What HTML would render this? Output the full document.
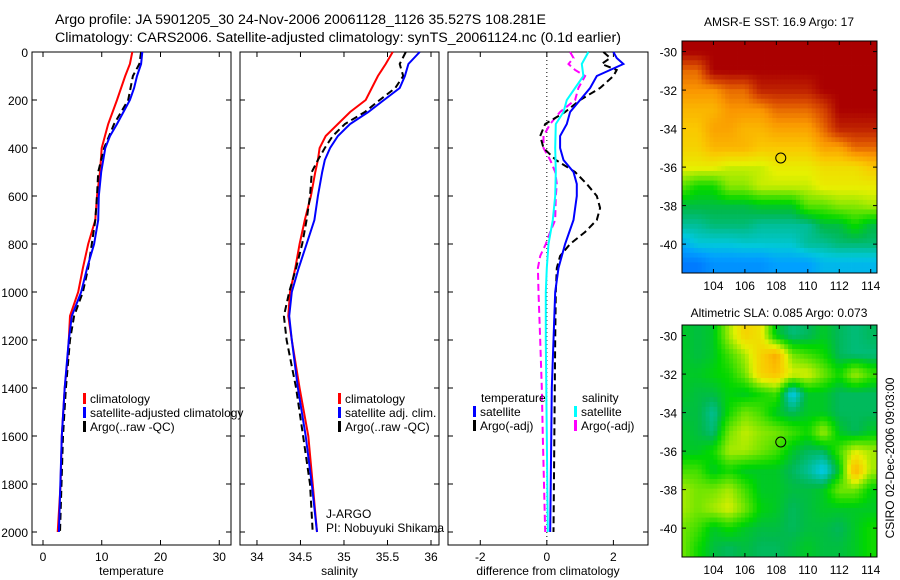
<!DOCTYPE html>
<html><head><meta charset="utf-8"><style>
html,body{margin:0;padding:0;background:#fff;}
svg{display:block;font-family:"Liberation Sans",sans-serif;}
text{fill:#000;}
</style></head><body>
<svg id="fig" width="900" height="580" viewBox="0 0 900 580" xmlns="http://www.w3.org/2000/svg">
<text x="55" y="24" font-size="14.2">Argo profile: JA 5901205_30 24-Nov-2006 20061128_1126 35.527S 108.281E</text>
<text x="55" y="42" font-size="14.2">Climatology: CARS2006. Satellite-adjusted climatology: synTS_20061124.nc (0.1d earlier)</text>
<text x="779" y="26" font-size="12" text-anchor="middle">AMSR-E SST: 16.9 Argo: 17</text>
<text x="779" y="317" font-size="12" text-anchor="middle">Altimetric SLA: 0.085 Argo: 0.073</text>
<text transform="translate(894,458) rotate(-90)" font-size="12" text-anchor="middle">CSIRO 02-Dec-2006 09:03:00</text>
<g id="layer"></g>
</svg>
<script>
// ---------- data ----------
const depthTicks = [0,200,400,600,800,1000,1200,1400,1600,1800,2000];
const tempTicks = [0,10,20,30];
const salTicks = [34,34.5,35,35.5,36];
const salTickLabels = ["34","34.5","35","35.5","36"];
const diffTicks = [-2,0,2];

const tClimDepth = [0,50,100,200,300,400,500,600,700,800,900,1000,1100,1200,1300,1400,1600,1800,2000];
const tClim = [15.2,14.8,14.0,12.6,11.1,10.0,9.7,9.2,8.9,7.7,6.8,6.0,4.6,4.4,4.1,3.7,3.2,3.0,2.5];
const tSatDepth = [0,50,100,150,200,300,350,400,500,600,700,800,900,1000,1100,1200,1400,1600,2000];
const tSat = [16.9,16.7,16.0,15.5,14.8,12.6,11.4,10.6,9.9,9.5,9.4,8.7,7.5,6.5,4.9,4.4,3.7,3.2,2.7];
const tArgoDepth = [0,50,100,200,300,400,500,600,700,800,900,1000,1100,1200,1400,1600,2000];
const tArgo = [16.7,16.4,15.3,14.5,12.1,10.4,9.4,9.2,8.9,8.3,7.7,6.8,5.3,4.6,3.9,3.4,2.9];

const sDepth = [0,50,100,150,200,250,300,350,400,450,500,600,700,800,900,1000,1100,1200,1400,1600,1800,2000];
const sClim = [35.56,35.48,35.39,35.32,35.25,35.07,34.93,34.79,34.72,34.70,34.67,34.62,34.55,34.49,34.44,34.38,34.36,34.40,34.49,34.59,34.64,34.69];
const sSat = [35.87,35.74,35.70,35.64,35.46,35.28,35.07,34.93,34.84,34.78,34.75,34.70,34.66,34.57,34.48,34.40,34.37,34.40,34.47,34.56,34.63,34.69];
const sArgo = [35.71,35.64,35.68,35.59,35.41,35.24,35.01,34.87,34.78,34.70,34.63,34.61,34.57,34.52,34.45,34.37,34.31,34.34,34.45,34.53,34.61,34.64];

const dTSatDepth = [0,25,50,75,100,150,200,250,300,350,400,450,500,550,600,700,800,900,1000,1200,1400,2000];
const dTSat = [2.0,2.1,2.3,1.9,1.5,1.3,1.0,0.7,0.6,0.4,0.4,0.5,0.8,0.9,0.9,0.8,0.55,0.35,0.25,0.2,0.15,0.1];
const dTArgoDepth = [0,25,50,75,100,150,200,250,300,350,400,450,500,550,600,650,700,750,800,850,900,1000,1200,2000];
const dTArgo = [1.7,1.9,1.65,2.1,2.0,1.6,1.0,0.55,-0.05,-0.2,-0.1,0.27,0.85,1.2,1.5,1.6,1.5,1.15,0.7,0.4,0.3,0.27,0.25,0.2];
const dSSatDepth = [0,50,100,150,200,250,300,400,500,600,700,800,900,1000,1200,2000];
const dSSat = [1.25,1.05,1.1,0.85,0.6,0.5,0.27,0.25,0.27,0.25,0.18,0.05,0,-0.03,-0.03,0.03];
const dSArgoDepth = [0,25,50,75,100,150,200,250,300,350,400,450,500,550,600,700,750,800,850,900,1000,1200,1400,1600,2000];
const dSArgo = [0.7,0.8,0.65,0.85,1.15,0.95,0.85,0.4,0.1,-0.1,-0.1,0.1,0.25,0.3,0.27,0.25,0.1,-0.03,-0.2,-0.27,-0.25,-0.2,-0.15,-0.12,-0.05];

// maps: rows lat -30..-41, cols lon 102..114
const mapLons = [102,103,104,105,106,107,108,109,110,111,112,113,114];
const mapLats = [-30,-31,-32,-33,-34,-35,-36,-37,-38,-39,-40,-41];
const lonTicks = [104,106,108,110,112,114];
const latTicks = [-30,-32,-34,-36,-38,-40];
const sstValues = [
[20,20,20,20,20,20,20,20,20,20,20,20,20],
[18.5,18.5,20,20,20,20,20,20,20,20,20,20,20],
[18,18,18,18.5,18.5,19.5,19.5,19.5,19.5,20,20,20,20],
[17.5,17.5,17.5,18,18,18,18.5,18.5,18.5,19,20,20,20],
[17.2,17.2,17.8,17.8,17.5,17.5,17.8,17.8,17.8,18.5,19.5,19.5,19.5],
[17,17,17.5,17.5,17.5,17.2,17.2,17.2,17.2,17.8,17.8,18.5,18.5],
[16.5,16.5,16.5,16.2,16.2,16.2,16.5,16.5,16.5,16.8,16.8,16.8,17.2],
[15.5,15,15,15.8,15.8,16.2,16.2,16.2,16.2,16.5,16.5,16.5,16.5],
[14.5,14.5,14.5,14.5,14.5,14.7,14.7,14.7,15.5,15.5,15.8,15.8,16],
[14,14,14.2,14.2,14.2,14,14,14,14,14.5,14.5,15,14.5],
[13,13.5,13.5,13.5,13.6,13.6,13.6,13.6,14,14,14.2,14.2,14.2],
[12,12,12.5,12.5,12.5,12.5,12.8,12.8,12.8,13.2,13.2,13.2,13.2]];
const slaValues = [
[-2,-3,-2,6,12,10,-2,-5,-4,-2,-4,-5,-4],
[-2,-3,-2,2,6,12,16,4,2,0,-4,-5,-5],
[-2,-2,-1,0,4,12,14,8,8,4,0,6,2],
[-2,-3,-3,-1,-2,0,2,-10,-2,-2,-4,-4,-4],
[-3,-3,-6,0,4,2,-2,-4,-2,-2,-4,-4,-4],
[-2,-3,-5,4,7,5,4,2,0,6,-2,-4,-2],
[-2,-2,0,6,6,4,2,-2,-4,-4,2,8,6],
[2,2,-2,0,-2,-2,-2,-4,-6,-10,-2,16,6],
[6,4,4,6,2,-2,-2,-3,-3,-2,4,4,-1],
[6,4,6,8,4,-1,-2,-4,-3,-2,-2,-2,-2],
[4,2,-2,0,-2,-3,-3,-4,-3,-3,-4,-2,0],
[4,0,-3,-4,-3,-4,-4,-3,-2,-3,-3,-2,0]];
const argoPos = [108.281,-35.527];

// ---------- helpers ----------
const NS="http://www.w3.org/2000/svg";
const layer=document.getElementById('layer');
function mk(tag,attrs,parent){const e=document.createElementNS(NS,tag);for(const k in attrs)e.setAttribute(k,attrs[k]);(parent||layer).appendChild(e);return e;}
const Y0=52,Y1=532,PT=52,PB=545;
const yD=d=>Y0+(d/2000)*(Y1-Y0);
const panels=[
 {x0:32,x1:231,v0:-1.87,v1:32.0,name:'temperature'},
 {x0:240,x1:439,v0:33.805,v1:36.092,name:'salinity'},
 {x0:448,x1:648,v0:-2.97,v1:3.04,name:'difference'}];
const xf=p=>v=>p.x0+(v-p.v0)/(p.v1-p.v0)*(p.x1-p.x0);

function panelFrame(p,idx,ticks,labels,xlabel){
  const g=mk('g',{});
  
  
  const r=mk('rect',{x:p.x0,y:PT,width:p.x1-p.x0,height:PB-PT,fill:'none',stroke:'#000','stroke-width':1},g);
  
  
  const X=xf(p);
  ticks.forEach((t,i)=>{
    const x=X(t);
    mk('line',{x1:x,y1:PB,x2:x,y2:PB-5,stroke:'#000'},g);
    mk('line',{x1:x,y1:PT,x2:x,y2:PT+5,stroke:'#000'},g);
    const tx=mk('text',{x:x,y:PB+16,'font-size':12,'text-anchor':'middle'},g);
    tx.textContent=labels[i];
    
    
  });
  depthTicks.forEach(d=>{
    const y=yD(d);
    mk('line',{x1:p.x0,y1:y,x2:p.x0+5,y2:y,stroke:'#000'},g);
    mk('line',{x1:p.x1,y1:y,x2:p.x1-5,y2:y,stroke:'#000'},g);
    if(idx===0){
      const tx=mk('text',{x:p.x0-4,y:y+5,'font-size':12,'text-anchor':'end'},g);
      tx.textContent=String(d);
      
      
    }
  });
  const xl=mk('text',{x:(p.x0+p.x1)/2,y:575,'font-size':12,'text-anchor':'middle'},g);
  xl.textContent=xlabel;
  
  
  return g;
}
function series(p,depths,vals,color,dash,name,w){
  const X=xf(p);
  const pts=depths.map((d,i)=>X(vals[i]).toFixed(1)+','+yD(d).toFixed(1)).join(' ');
  const l=mk('polyline',{points:pts,fill:'none',stroke:color,'stroke-width':w||2,'stroke-dasharray':dash||'none'});
  
  
}
function legendEntry(x,y,color,label,name){
  const r=mk('rect',{x:x,y:y-10,width:3,height:11,fill:color});
  
  
  const t=mk('text',{x:x+7,y:y,'font-size':12});
  t.textContent=label;
  
  
}

// temperature panel
panelFrame(panels[0],0,tempTicks,tempTicks.map(String),'temperature');
series(panels[0],tClimDepth,tClim,'#f00',null,'temp-climatology-line');
series(panels[0],tArgoDepth,tArgo,'#000','7,4','temp-argo-line');
series(panels[0],tSatDepth,tSat,'#00f',null,'temp-satellite-line');
legendEntry(83,403,'#f00','climatology','legend-entry-climatology');
legendEntry(83,417,'#00f','satellite-adjusted climatology','legend-entry-satellite-adjusted');
legendEntry(83,431,'#000','Argo(..raw -QC)','legend-entry-argo');

// salinity panel
panelFrame(panels[1],1,salTicks,salTickLabels,'salinity');
series(panels[1],sDepth,sClim,'#f00',null,'sal-climatology-line');
series(panels[1],sDepth,sArgo,'#000','7,4','sal-argo-line');
series(panels[1],sDepth,sSat,'#00f',null,'sal-satellite-line');
legendEntry(338,403,'#f00','climatology','legend-entry-sal-climatology');
legendEntry(338,417,'#00f','satellite adj. clim.','legend-entry-sal-satellite');
legendEntry(338,431,'#000','Argo(..raw -QC)','legend-entry-sal-argo');
[['J-ARGO',518,'j-argo-label'],['PI: Nobuyuki Shikama',532,'pi-label']].forEach(a=>{
  const t=mk('text',{x:326,y:a[1],'font-size':12});t.textContent=a[0];
  
  
});

// difference panel
panelFrame(panels[2],2,diffTicks,diffTicks.map(String),'difference from climatology');
{const X=xf(panels[2]);const zl=mk('line',{x1:X(0),y1:PT,x2:X(0),y2:PB,stroke:'#000','stroke-dasharray':'1,3'});

}
series(panels[2],dSArgoDepth,dSArgo,'#f0f','7,4','diff-sal-argo-line');
series(panels[2],dTArgoDepth,dTArgo,'#000','7,4','diff-temp-argo-line');
series(panels[2],dTSatDepth,dTSat,'#00f',null,'diff-temp-satellite-line');
series(panels[2],dSSatDepth,dSSat,'#0ff',null,'diff-sal-satellite-line');
{const t=mk('text',{x:481,y:402,'font-size':12});t.textContent='temperature';


const t2=mk('text',{x:582,y:402,'font-size':12});t2.textContent='salinity';

}
legendEntry(473,416,'#00f','satellite','legend-entry-diff-temp-satellite');
legendEntry(473,430,'#000','Argo(-adj)','legend-entry-diff-temp-argo');
legendEntry(574,416,'#0ff','satellite','legend-entry-diff-sal-satellite');
legendEntry(574,430,'#f0f','Argo(-adj)','legend-entry-diff-sal-argo');

// ---------- maps ----------
const cmapStops=[[0,[0,0,180]],[0.15,[0,100,255]],[0.28,[0,160,255]],[0.35,[0,200,220]],[0.4,[0,190,150]],[0.44,[0,185,80]],[0.49,[0,215,0]],[0.57,[120,230,0]],[0.64,[230,240,0]],[0.72,[250,200,0]],[0.8,[250,150,0]],[0.88,[220,80,0]],[1,[170,0,0]]];
function cmap(t){t=Math.max(0,Math.min(1,t));
  for(let i=1;i<cmapStops.length;i++){const a=cmapStops[i-1],b=cmapStops[i];
    if(t<=b[0]){const f=(t-a[0])/(b[0]-a[0]);const c=a[1].map((v,k)=>Math.round(v+(b[1][k]-v)*f));return 'rgb('+c.join(',')+')';}}
  return 'rgb(170,0,0)';}
function sample(grid,lon,lat){
  let fx=(lon-mapLons[0]),fy=(mapLats[0]-lat);
  fx=Math.max(0,Math.min(mapLons.length-1,fx));fy=Math.max(0,Math.min(mapLats.length-1,fy));
  const i0=Math.floor(fx),j0=Math.floor(fy),i1=Math.min(i0+1,mapLons.length-1),j1=Math.min(j0+1,mapLats.length-1);
  const ax=fx-i0,ay=fy-j0;
  return (grid[j0][i0]*(1-ax)+grid[j0][i1]*ax)*(1-ay)+(grid[j1][i0]*(1-ax)+grid[j1][i1]*ax)*ay;
}
function drawMap(grid,top,bottom,cmin,cmax,name){
  const x0=682,x1=877,lonL=102.0,lonR=114.4,latT=-29.45,latB=-41.5;
  const ppLat=(bottom-top)/(latT-latB);
  const X=lon=>x0+(lon-lonL)/(lonR-lonL)*(x1-x0);
  const Y=lat=>top+(latT-lat)*ppLat;
  const g=mk('g',{});
  
  
  const step=0.25;
  for(let lat=latT;lat>latB-0.001;lat-=step){
    for(let lon=lonL;lon<lonR;lon+=step){
      const v=sample(grid,lon+step/2,lat-step/2);
      const xa=X(lon),xb=Math.min(X(lon+step),x1),ya=Y(lat),yb=Math.min(Y(lat-step),bottom);
      if(yb<=ya||xb<=xa)continue;
      mk('rect',{x:xa.toFixed(2),y:ya.toFixed(2),width:(xb-xa+0.4).toFixed(2),height:(yb-ya+0.4).toFixed(2),fill:cmap((v-cmin)/(cmax-cmin))},g);
    }
  }
  mk('rect',{x:x0,y:top,width:x1-x0,height:bottom-top,fill:'none',stroke:'#000'},g);
  lonTicks.forEach(l=>{const x=X(l);
    mk('line',{x1:x,y1:bottom,x2:x,y2:bottom-4,stroke:'#000'},g);
    mk('line',{x1:x,y1:top,x2:x,y2:top+4,stroke:'#000'},g);
    const t=mk('text',{x:x,y:bottom+17,'font-size':12,'text-anchor':'middle'},g);t.textContent=String(l);
    
    });
  latTicks.forEach(l=>{const y=Y(l);
    mk('line',{x1:x0,y1:y,x2:x0+4,y2:y,stroke:'#000'},g);
    mk('line',{x1:x1,y1:y,x2:x1-4,y2:y,stroke:'#000'},g);
    const t=mk('text',{x:x0-5,y:y+5,'font-size':12,'text-anchor':'end'},g);t.textContent=String(l);
    
    });
  const c=mk('circle',{cx:X(argoPos[0]),cy:Y(argoPos[1]),r:5,fill:'none',stroke:'#000','stroke-width':1},g);
  
  
}
drawMap(sstValues,41,273,10,20,'sst-map');
drawMap(slaValues,325,557,-30,30,'sla-map');
</script>
</body></html>
